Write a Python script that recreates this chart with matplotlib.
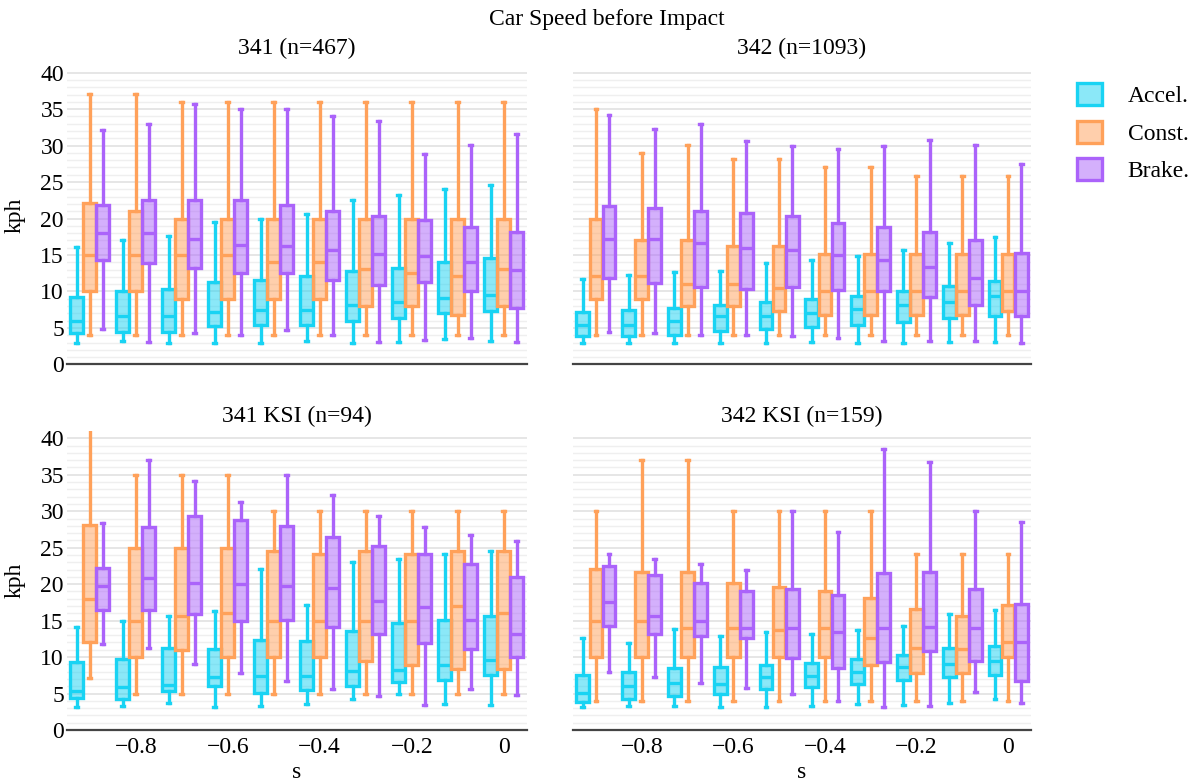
import matplotlib.pyplot as plt
from matplotlib.colors import to_rgba
from matplotlib.patches import Patch
from matplotlib.ticker import MultipleLocator, FixedLocator

plt.rcParams['font.family'] = ['Liberation Serif', 'DejaVu Serif']

groups = [-0.9, -0.8, -0.7, -0.6, -0.5, -0.4, -0.3, -0.2, -0.1, 0.0]
series_names = ['Accel.', 'Const.', 'Brake.']
colors = ['#19D3F3', '#FFA15A', '#AB63FA']
panel_titles = ['341 (n=467)', '342 (n=1093)', '341 KSI (n=94)', '342 KSI (n=159)']
xtick_vals = [-0.8, -0.6, -0.4, -0.2, 0.0]
xtick_labels = ['\u22120.8', '\u22120.6', '\u22120.4', '\u22120.2', '0']

# each row: [whisker low, q1, median, q3, whisker high]
p341_accel = [[3.0, 4.3, 6.0, 9.3, 16.1], [3.2, 4.5, 6.6, 10.1, 17.1], [3.0, 4.5, 6.6, 10.4, 17.6],
              [3.0, 5.2, 7.25, 11.3, 19.5], [3.0, 5.4, 7.5, 11.6, 20.0], [3.2, 5.4, 7.5, 12.1, 20.6],
              [3.0, 5.9, 8.2, 12.8, 22.5], [3.1, 6.3, 8.6, 13.2, 23.2], [3.55, 7.0, 9.1, 14.0, 24.1],
              [3.2, 7.35, 9.45, 14.6, 24.6]]
p341_const = [[4, 10, 15, 22.1, 37.1], [4, 10, 15, 21.1, 37.1], [4, 9, 15, 20, 36], [4, 9, 15, 20, 36],
              [4, 9, 14.1, 20, 36], [4, 9, 14.1, 20, 36], [4, 8, 13.1, 20, 36], [4, 8, 12.6, 20, 36],
              [4, 6.8, 12.1, 20, 36], [4, 8, 13.1, 20, 36]]
p341_brake = [[4.9, 14.35, 18.0, 21.9, 32.1], [3.1, 13.9, 18.0, 22.5, 33.0], [4.3, 13.2, 17.2, 22.5, 35.7],
              [4.0, 12.5, 16.4, 22.5, 35.05], [4.7, 12.5, 16.3, 21.8, 35.0], [4.0, 11.6, 15.7, 21.1, 34.0],
              [3.1, 10.9, 15.2, 20.3, 33.4], [3.4, 11.3, 14.8, 19.85, 28.8], [3.6, 10.0, 14.1, 18.9, 30.1],
              [3.1, 7.7, 12.9, 18.2, 31.6]]

p342_accel = [[3.0, 3.9, 5.4, 7.25, 11.7], [3.0, 3.9, 5.4, 7.5, 12.2], [3.0, 4.1, 5.9, 7.8, 12.7],
              [3.0, 4.6, 6.6, 8.1, 12.8], [3.0, 4.8, 6.6, 8.6, 13.9], [3.1, 5.06, 7.0, 9.0, 14.35],
              [3.0, 5.4, 7.6, 9.4, 14.9], [3.0, 5.75, 8.1, 10.1, 15.7], [3.1, 6.4, 8.6, 10.7, 16.7],
              [3.1, 6.6, 9.4, 11.5, 17.5]]
p342_const = [[4, 9, 12.1, 20, 35.05], [4, 9, 12.1, 17.1, 29.0], [4, 8, 11.0, 17.1, 30.1],
              [4, 8, 11.0, 16.2, 28.1], [4, 7.35, 10.45, 16.2, 28.1], [4, 6.8, 10.0, 15.1, 27.0],
              [4, 6.8, 10.0, 15.1, 27.0], [4, 6.8, 10.0, 15.1, 25.9], [4, 6.8, 10.0, 15.1, 25.9],
              [4, 7.35, 10.0, 15.1, 25.9]]
p342_brake = [[4.4, 11.8, 17.2, 21.7, 34.2], [4.3, 11.15, 17.2, 21.4, 32.3], [4.1, 10.55, 16.7, 21.0, 33.0],
              [4.0, 10.4, 15.95, 20.8, 30.6], [3.9, 10.55, 15.7, 20.3, 30.0], [3.6, 10.2, 15.0, 19.4, 29.6],
              [3.2, 10.0, 14.35, 18.9, 30.0], [3.2, 9.3, 13.4, 18.1, 30.8], [3.2, 8.1, 11.9, 17.1, 30.1],
              [3.0, 6.6, 10.1, 15.3, 27.5]]

k341_accel = [[3.1, 4.4, 5.3, 9.27, 14.15], [3.3, 4.25, 5.9, 9.8, 14.9], [3.75, 5.3, 6.2, 11.3, 15.6],
              [3.1, 6.0, 7.2, 11.05, 16.3], [3.3, 5.1, 7.4, 12.3, 22.05], [3.56, 5.5, 7.4, 12.2, 17.2],
              [4.2, 6.0, 8.1, 13.55, 22.97], [4.9, 6.6, 8.2, 14.7, 23.5], [3.56, 6.9, 8.9, 15.15, 24.1],
              [3.4, 7.5, 9.6, 15.6, 24.6]]
k341_const = [[7.1, 12.1, 18.0, 28.1, 42], [5, 10, 15, 25, 35], [5, 11, 15.6, 25, 35], [5, 10, 16, 25, 35],
              [5, 10, 15, 24.6, 30], [5, 10, 15, 24.1, 30], [5, 9.4, 15, 24.6, 30], [5, 8.9, 15, 24.1, 30],
              [5, 8.3, 17.0, 24.6, 30], [5, 8.4, 16.1, 24.6, 30]]
k341_brake = [[11.8, 16.5, 19.8, 22.15, 28.4], [11.2, 16.5, 20.8, 27.85, 37.0], [9.0, 15.85, 20.1, 29.4, 34.1],
              [7.85, 14.9, 20.0, 28.8, 31.3], [6.7, 15.15, 19.8, 28.0, 35.0], [5.6, 14.15, 19.5, 26.5, 32.2],
              [4.6, 13.1, 17.7, 25.25, 29.4], [3.4, 11.96, 16.8, 24.1, 27.8], [5.6, 11.05, 15.1, 22.7, 26.8],
              [4.8, 10.0, 13.2, 21.0, 25.9]]

k342_accel = [[3.1, 3.9, 5.1, 7.5, 12.55], [3.3, 4.25, 6.1, 7.9, 11.9], [3.3, 4.6, 6.4, 8.5, 13.8],
              [3.1, 4.9, 6.3, 8.7, 12.9], [3.1, 5.6, 7.3, 8.9, 13.5], [3.3, 5.85, 7.4, 9.2, 13.2],
              [3.56, 6.3, 8.0, 9.7, 13.7], [3.4, 6.9, 8.7, 10.3, 14.3], [3.65, 7.2, 9.0, 11.2, 15.85],
              [4.3, 7.5, 9.45, 11.5, 16.5]]
k342_const = [[4, 10, 15, 22.05, 30], [4, 10, 15, 21.6, 37], [4, 10, 14, 21.6, 37], [4, 10, 14, 20.1, 30],
              [4, 10, 13.7, 19.6, 30], [4, 10, 14, 19.1, 30], [4, 8.9, 12.55, 18.1, 30],
              [4, 7.85, 11.2, 16.6, 24.1], [4, 7.85, 11.05, 15.6, 24.1], [4, 10, 12.0, 17.1, 24.1]]
k342_brake = [[8.0, 14.3, 17.6, 22.5, 24.1], [7.3, 13.2, 15.6, 21.2, 23.4], [6.4, 12.9, 14.9, 20.2, 22.7],
              [5.7, 12.55, 14.0, 19.0, 21.9], [4.9, 9.9, 14.0, 19.3, 30], [4.0, 8.5, 13.5, 18.5, 27.2],
              [3.2, 9.36, 14.0, 21.5, 38.5], [3.3, 10.9, 14.15, 21.6, 36.7], [5.25, 9.5, 14.0, 19.4, 30],
              [3.65, 6.7, 12.0, 17.3, 28.5]]

panels = [(p341_accel, p341_const, p341_brake), (p342_accel, p342_const, p342_brake),
          (k341_accel, k341_const, k341_brake), (k342_accel, k342_const, k342_brake)]

W, H = 1195, 782
fig = plt.figure(figsize=(W / 100, H / 100), dpi=100)

# axes boxes in pixels: left, top, width, height
boxes = [(66.7, 65.4, 460, 299), (573, 65.4, 458, 299), (66.7, 431, 460, 299), (573, 431, 458, 299)]
lw = 2.4
fs = 17

for i, (bx, rows_by_series) in enumerate(zip(boxes, panels)):
    left, top, w, h = bx
    ax = fig.add_axes([left / W, 1 - (top + h) / H, w / W, h / H])
    for k, (rows, color) in enumerate(zip(rows_by_series, colors)):
        off = (k - 1) * 0.0286
        stats = [dict(whislo=r[0], q1=r[1], med=r[2], q3=r[3], whishi=r[4]) for r in rows]
        ax.bxp(stats, positions=[g + off for g in groups], widths=0.0277, capwidths=0.006,
               showfliers=False, patch_artist=True, manage_ticks=False, zorder=3 + k,
               boxprops=dict(facecolor=to_rgba(color, 0.5), edgecolor=color, linewidth=lw, joinstyle='miter'),
               whiskerprops=dict(color=color, linewidth=lw),
               capprops=dict(color=color, linewidth=lw),
               medianprops=dict(color=color, linewidth=lw))
    ax.set_xlim(-0.95, 0.05)
    ax.set_ylim(0, 41)
    ax.yaxis.set_major_locator(MultipleLocator(5))
    ax.yaxis.set_minor_locator(FixedLocator(list(range(0, 41))))
    ax.grid(which='minor', axis='y', color='#efefef', linewidth=1.0)
    ax.grid(which='major', axis='y', color='#e2e2e2', linewidth=1.2)
    ax.set_axisbelow(True)
    for s in ['top', 'right', 'left']:
        ax.spines[s].set_visible(False)
    ax.spines['bottom'].set_color('#444444')
    ax.spines['bottom'].set_linewidth(1.6)
    ax.spines['bottom'].set_zorder(10)
    ax.tick_params(which='both', length=0, labelsize=fs)
    ax.tick_params(axis='y', pad=2)
    ax.tick_params(axis='x', pad=5)
    ax.set_xticks(xtick_vals)
    if i >= 2:
        ax.set_xticklabels(xtick_labels)
        fig.text((left + w / 2) / W, 1 - 773 / H, 's', ha='center', va='center', fontsize=fs)
    else:
        ax.set_xticklabels([])
    if i % 2 == 0:
        ax.set_ylabel('kph', fontsize=fs)
        ax.yaxis.set_label_coords((26 - left) / w, 0.5)
    else:
        ax.set_yticklabels([])
    title_y = 48.5 if i < 2 else 416
    fig.text((left + w / 2) / W, 1 - title_y / H, panel_titles[i], ha='center', va='center', fontsize=fs)

fig.text(607 / W, 1 - 19 / H, 'Car Speed before Impact', ha='center', va='center', fontsize=fs)

handles = [Patch(facecolor=to_rgba(c, 0.5), edgecolor=c, linewidth=lw, label=n)
           for c, n in zip(colors, series_names)]
fig.legend(handles=handles, loc='upper left', bbox_to_anchor=(1077 / W, 1 - 83 / H), frameon=False,
           fontsize=fs, handlelength=1.05, handleheight=1.05, handletextpad=1.1, labelspacing=0.58,
           borderpad=0, borderaxespad=0)

fig.savefig('out.png', dpi=100)
